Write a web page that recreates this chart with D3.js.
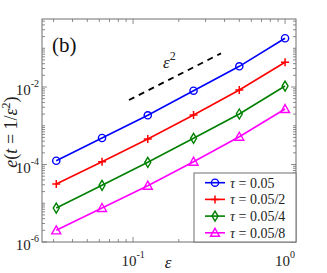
<!DOCTYPE html>
<html lang="en">
<head>
    <meta charset="UTF-8">
    <title>Error vs epsilon</title>
    <style>
        body { margin: 0; background: #fff; }
        svg { display: block; font-family: "Liberation Serif", "DejaVu Serif", serif; }
    </style>
</head>
<body>
    <div id="chart"></div>
    <script src="https://cdnjs.cloudflare.com/ajax/libs/d3/7.8.5/d3.min.js"></script>
    <script>
        // data
        const epsValues = [1/32, 1/16, 1/8, 1/4, 1/2, 1];
        const seriesNames = ["0.05", "0.05/2", "0.05/4", "0.05/8"];
        const errTau1 = [1.25e-4, 4.83e-4, 1.86e-3, 8.04e-3, 3.42e-2, 1.81e-1];
        const errTau2 = [3.14e-5, 1.18e-4, 4.55e-4, 1.89e-3, 8.38e-3, 4.34e-2];
        const errTau4 = [7.53e-6, 2.90e-5, 1.14e-4, 4.74e-4, 2.01e-3, 1.06e-2];
        const errTau8 = [2.00e-6, 7.53e-6, 2.84e-5, 1.18e-4, 5.21e-4, 2.70e-3];
        const refEps = [0.094, 0.379];
        const refErr = [4.6e-3, 7.4e-2];
        const xTicks = [1e-1, 1];
        const xTickExp = ["-1", "0"];
        const yTicks = [1e-6, 1e-4, 1e-2];
        const yTickExp = ["-6", "-4", "-2"];

        const W = 327, H = 273;
        const pLeft = 42, pRight = 296, pTop = 19, pBottom = 242;

        const svg = d3.select("#chart").append("svg")
            .attr("width", W).attr("height", H);

        const x = d3.scaleLog().domain([Math.pow(10, -1.599), Math.pow(10, 0.072)]).range([pLeft, pRight]);
        const y = d3.scaleLog().domain([1e-6, Math.pow(10, -0.245)]).range([pBottom, pTop]);

        const axisColor = "#6e6e6e";

        // minor + major ticks, inward, on all four sides
        function minorTicks(scale) {
            const [a, b] = scale.domain();
            const out = [];
            for (let k = Math.floor(Math.log10(a)); k <= Math.ceil(Math.log10(b)); k++) {
                for (let m = 1; m <= 9; m++) {
                    const v = m * Math.pow(10, k);
                    if (v >= a * 0.999 && v <= b) out.push(v);
                }
            }
            return out;
        }
        const isMajor = (list, v) => list.some(t => Math.abs(t - v) / t < 1e-6);

        const g = svg.append("g");
        minorTicks(x).forEach(v => {
            const px = x(v);
            const len = isMajor(xTicks, v) ? 5 : 3;
            g.append("line").attr("x1", px).attr("x2", px).attr("y1", pBottom).attr("y2", pBottom - len)
                .attr("stroke", axisColor).attr("stroke-width", 0.8);
            g.append("line").attr("x1", px).attr("x2", px).attr("y1", pTop).attr("y2", pTop + len)
                .attr("stroke", axisColor).attr("stroke-width", 0.8);
        });
        minorTicks(y).forEach(v => {
            const py = y(v);
            const len = isMajor(yTicks, v) ? 5 : 3;
            g.append("line").attr("x1", pLeft).attr("x2", pLeft + len).attr("y1", py).attr("y2", py)
                .attr("stroke", axisColor).attr("stroke-width", 0.8);
            g.append("line").attr("x1", pRight).attr("x2", pRight - len).attr("y1", py).attr("y2", py)
                .attr("stroke", axisColor).attr("stroke-width", 0.8);
        });

        svg.append("rect").attr("x", pLeft).attr("y", pTop)
            .attr("width", pRight - pLeft).attr("height", pBottom - pTop)
            .attr("fill", "none").attr("stroke", axisColor).attr("stroke-width", 1);

        // tick labels
        xTicks.forEach((v, i) => {
            const t = svg.append("text").attr("x", x(v)).attr("y", 266)
                .attr("text-anchor", "middle").attr("font-size", 15).attr("fill", "#222");
            t.append("tspan").text("10");
            t.append("tspan").attr("dy", -8).attr("font-size", 10).text(xTickExp[i]);
        });
        yTicks.forEach((v, i) => {
            const t = svg.append("text").attr("x", 39).attr("y", y(v) + 8)
                .attr("text-anchor", "end").attr("font-size", 15).attr("fill", "#222");
            t.append("tspan").text("10");
            t.append("tspan").attr("dy", -8).attr("font-size", 10).text(yTickExp[i]);
        });

        // axis titles
        svg.append("text").attr("x", 168).attr("y", 268).attr("text-anchor", "middle")
            .attr("font-size", 17).attr("font-style", "italic").attr("fill", "#222").text("ε");

        const yl = svg.append("text")
            .attr("transform", "translate(17,132) rotate(-90)")
            .attr("text-anchor", "middle").attr("font-size", 18).attr("fill", "#222");
        yl.append("tspan").attr("font-style", "italic").text("e");
        yl.append("tspan").text("(");
        yl.append("tspan").attr("font-style", "italic").text("t");
        yl.append("tspan").text(" = 1/");
        yl.append("tspan").attr("font-style", "italic").text("ε");
        yl.append("tspan").attr("dy", -7).attr("font-size", 12).text("2");
        yl.append("tspan").attr("dy", 7).text(")");

        // panel tag
        svg.append("text").attr("x", 52).attr("y", 52).attr("font-size", 21).attr("fill", "#111").text("(b)");

        // reference slope
        const line = d3.line().x(d => x(d[0])).y(d => y(d[1]));
        svg.append("path").datum(refEps.map((e, i) => [e, refErr[i]]))
            .attr("d", line).attr("fill", "none").attr("stroke", "#000")
            .attr("stroke-width", 1.8).attr("stroke-dasharray", "6,5");
        const sl = svg.append("text").attr("x", 163).attr("y", 68).attr("font-size", 17).attr("fill", "#222");
        sl.append("tspan").attr("font-style", "italic").text("ε");
        sl.append("tspan").attr("dy", -8).attr("font-size", 12).text("2");

        // series
        const series = [
            { name: seriesNames[0], values: errTau1, color: "#0000ff", marker: "circle" },
            { name: seriesNames[1], values: errTau2, color: "#ff0000", marker: "plus" },
            { name: seriesNames[2], values: errTau4, color: "#008000", marker: "diamond" },
            { name: seriesNames[3], values: errTau8, color: "#ff00ff", marker: "triangle" }
        ];

        function drawMarker(sel, type, cx, cy, color) {
            if (type === "circle") {
                sel.append("circle").attr("cx", cx).attr("cy", cy).attr("r", 3.6)
                    .attr("fill", "none").attr("stroke", color).attr("stroke-width", 1.4);
            } else if (type === "plus") {
                sel.append("path").attr("d", `M${cx - 4},${cy}H${cx + 4}M${cx},${cy - 4}V${cy + 4}`)
                    .attr("stroke", color).attr("stroke-width", 1.5);
            } else if (type === "diamond") {
                sel.append("path").attr("d", `M${cx},${cy - 5}L${cx + 3},${cy}L${cx},${cy + 5}L${cx - 3},${cy}Z`)
                    .attr("fill", "none").attr("stroke", color).attr("stroke-width", 1.4);
            } else {
                sel.append("path").attr("d", `M${cx},${cy - 4.5}L${cx + 4.5},${cy + 3.5}L${cx - 4.5},${cy + 3.5}Z`)
                    .attr("fill", "none").attr("stroke", color).attr("stroke-width", 1.4);
            }
        }

        series.forEach(s => {
            const pts = epsValues.map((e, i) => [e, s.values[i]]);
            svg.append("path").datum(pts).attr("d", line)
                .attr("fill", "none").attr("stroke", s.color).attr("stroke-width", 1.6);
            const mg = svg.append("g");
            pts.forEach(p => drawMarker(mg, s.marker, x(p[0]), y(p[1]), s.color));
        });

        // legend
        const lg = svg.append("g");
        lg.append("rect").attr("x", 194).attr("y", 173).attr("width", 102).attr("height", 69)
            .attr("fill", "#fff").attr("stroke", axisColor).attr("stroke-width", 1);
        series.forEach((s, i) => {
            const ly = 182.7 + i * 16.7;
            lg.append("line").attr("x1", 205).attr("x2", 225).attr("y1", ly).attr("y2", ly)
                .attr("stroke", s.color).attr("stroke-width", 1.6);
            drawMarker(lg, s.marker, 215, ly, s.color);
            const t = lg.append("text").attr("x", 230).attr("y", ly + 5)
                .attr("font-size", 14).attr("fill", "#222");
            t.append("tspan").attr("font-style", "italic").text("τ");
            t.append("tspan").text(" = " + s.name);
        });
    </script>
</body>
</html>
